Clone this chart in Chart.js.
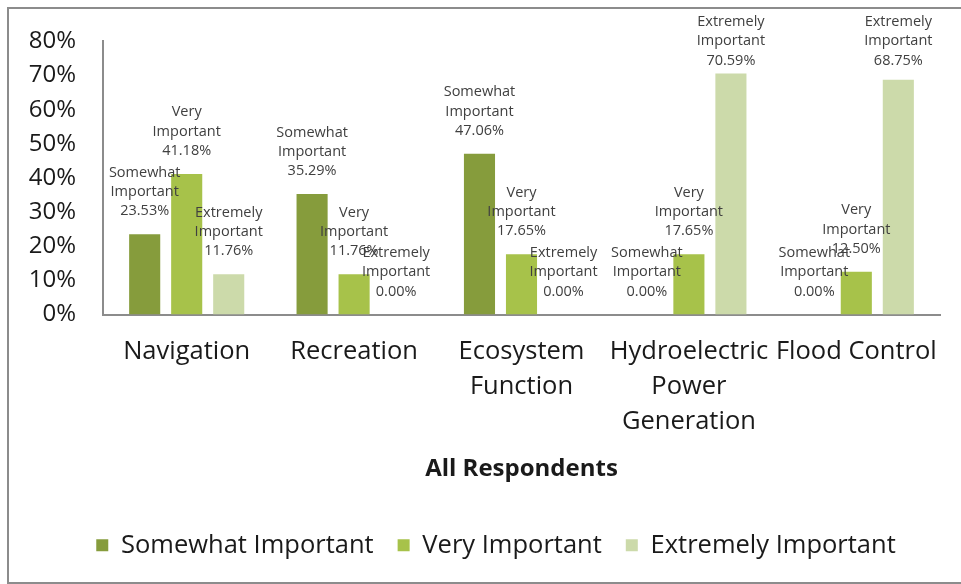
<!DOCTYPE html>
<html>
<head>
<meta charset="utf-8">
<script src="https://cdn.jsdelivr.net/npm/chart.js@4.4.1/dist/chart.umd.min.js"></script>
<style>
    html, body { margin: 0; padding: 0; background: #fff; overflow: hidden; }
    #wrap { position: relative; width: 961px; height: 584px; }
    #frame {
        position: absolute; left: 7px; top: 7px; width: 1000px; height: 577px;
        border-left: 2px solid #8c8c8c; border-top: 2px solid #8c8c8c; border-bottom: 2px solid #8c8c8c;
        box-sizing: border-box;
    }
    canvas { position: absolute; left: 0; top: 0; }
</style>
</head>
<body>
<div id="wrap">
    <div id="frame"></div>
    <canvas id="myChart" width="961" height="584"></canvas>
</div>
<script>
// Chart data
const categories = ['Navigation', 'Recreation', ['Ecosystem', 'Function'], ['Hydroelectric', 'Power', 'Generation'], 'Flood Control'];
const seriesNames = ['Somewhat Important', 'Very Important', 'Extremely Important'];
const somewhatImportant = [23.53, 35.29, 47.06, 0.00, 0.00];
const veryImportant = [41.18, 11.76, 17.65, 17.65, 12.50];
const extremelyImportant = [11.76, 0.00, 0.00, 70.59, 68.75];
const yTicks = [0, 10, 20, 30, 40, 50, 60, 70, 80];
const xTitle = 'All Respondents';

const colors = ['#869c3c', '#a7c24a', '#ccdaaa'];

// Draws the "Name / value%" labels above each bar (kept inside the top of the canvas)
const barLabels = {
    id: 'barLabels',
    afterDatasetsDraw(chart) {
        const c = chart.ctx;
        const lineH = 19.3;
        c.save();
        c.font = '14.5px "Open Sans"';
        c.fillStyle = '#404040';
        c.textAlign = 'center';
        c.textBaseline = 'middle';
        chart.data.datasets.forEach((ds, i) => {
            const meta = chart.getDatasetMeta(i);
            const words = ds.label.split(' ');
            meta.data.forEach((bar, j) => {
                const lines = [words[0], words[1], ds.data[j].toFixed(2) + '%'];
                let firstY = bar.y - 23 - (lines.length - 1) * lineH;
                if (firstY < 22) firstY = 22;
                lines.forEach((t, k) => {
                    c.fillText(t, bar.x, firstY + k * lineH);
                });
            });
        });
        c.restore();
    }
};

// Nudge the legend a little to the right, like the original
const legendShift = {
    id: 'legendShift',
    afterLayout(chart) {
        if (chart.legend) {
            chart.legend.left += 13;
            chart.legend.right += 13;
        }
    }
};

document.addEventListener('DOMContentLoaded', function() {
    const ctx = document.getElementById('myChart');
    const seriesData = [somewhatImportant, veryImportant, extremelyImportant];

    new Chart(ctx, {
        type: 'bar',
        data: {
            labels: categories,
            datasets: seriesNames.map((name, i) => ({
                label: name,
                data: seriesData[i],
                backgroundColor: colors[i],
                borderWidth: 0,
                categoryPercentage: 0.753,
                barPercentage: 0.74
            }))
        },
        options: {
            responsive: false,
            animation: false,
            layout: { padding: { top: 38, left: 26, right: 21, bottom: 16 } },
            plugins: {
                tooltip: { enabled: false },
                legend: {
                    position: 'bottom',
                    labels: {
                        boxWidth: 12,
                        boxHeight: 12,
                        padding: 24,
                        color: '#1a1a1a',
                        font: { family: 'Open Sans', size: 25.5 }
                    }
                }
            },
            scales: {
                y: {
                    min: 0,
                    max: 80,
                    afterFit(scale) { scale.width = 77; },
                    afterBuildTicks(scale) { scale.ticks = yTicks.map(v => ({ value: v })); },
                    grid: { display: false, drawTicks: false },
                    border: { color: '#8c8c8c', width: 2 },
                    ticks: {
                        padding: 27,
                        color: '#1a1a1a',
                        font: { family: 'Open Sans', size: 24 },
                        callback: v => v + '%'
                    }
                },
                x: {
                    afterFit(scale) { scale.height = 194; },
                    grid: { display: false, drawTicks: false },
                    border: { color: '#8c8c8c', width: 2 },
                    ticks: {
                        padding: 20,
                        maxRotation: 0,
                        autoSkip: false,
                        color: '#1a1a1a',
                        font: { family: 'Open Sans', size: 25.5, lineHeight: 1.37 }
                    },
                    title: {
                        display: true,
                        text: xTitle,
                        color: '#1a1a1a',
                        padding: { top: 0, bottom: 25 },
                        font: { family: 'Open Sans', size: 24, weight: 'bold' }
                    }
                }
            }
        },
        plugins: [barLabels, legendShift]
    });
});
</script>
</body>
</html>
